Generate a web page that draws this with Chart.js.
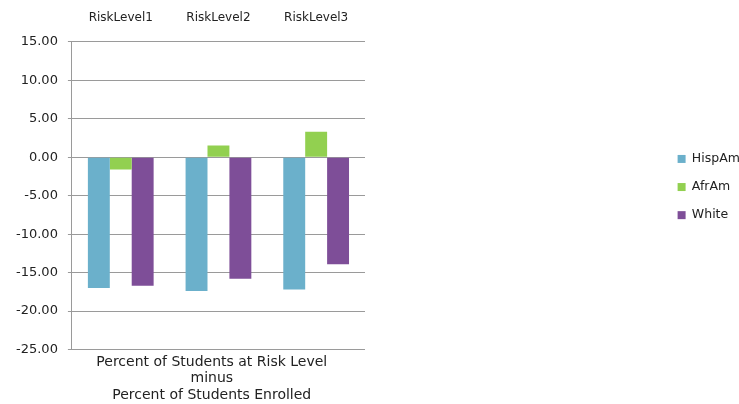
<!DOCTYPE html>
<html>
<head>
<meta charset="utf-8">
<script src="https://cdn.jsdelivr.net/npm/chart.js@4"></script>
<style>
  html, body { margin: 0; padding: 0; background: #fff; }
  #wrap { width: 739px; height: 404px; }
</style>
</head>
<body>
<div id="wrap"><canvas id="grafico"></canvas></div>
<script>
const categorias = ['RiskLevel1', 'RiskLevel2', 'RiskLevel3'];
const hispAm = [-17.0, -17.4, -17.2];
const afrAm = [-1.6, 1.5, 3.3];
const white = [-16.7, -15.8, -13.9];
const tituloEje = ['Percent of Students at Risk Level', 'minus', 'Percent of Students Enrolled'];

const fuente = 'DejaVu Sans';
const gris = '#9a9a9a';

new Chart(document.getElementById('grafico').getContext('2d'), {
    type: 'bar',
    data: {
        labels: categorias,
        datasets: [
            { label: 'HispAm', data: hispAm, backgroundColor: 'rgb(107, 176, 203)' },
            { label: 'AfrAm', data: afrAm, backgroundColor: 'rgb(146, 208, 80)' },
            { label: 'White', data: white, backgroundColor: 'rgb(126, 78, 152)' }
        ]
    },
    options: {
        responsive: true,
        maintainAspectRatio: false,
        animation: false,
        datasets: {
            bar: { barPercentage: 1, categoryPercentage: 0.673 }
        },
        layout: { padding: { top: 0, left: 6, right: 0, bottom: 0 } },
        plugins: {
            tooltip: { enabled: false },
            legend: {
                position: 'right',
                align: 'start',
                maxWidth: 77,
                // titulo vacio solo para bajar las entradas
                title: { display: true, text: ' ', font: { family: fuente, size: 13 }, padding: { top: 121.5, bottom: 0 } },
                labels: {
                    boxWidth: 8,
                    boxHeight: 8,
                    padding: 15.6,
                    color: '#222',
                    font: { family: fuente, size: 12.5 }
                }
            }
        },
        scales: {
            x: {
                position: 'top',
                grid: { drawOnChartArea: false, drawTicks: true, tickLength: 5.7, color: 'rgba(0,0,0,0)' },
                border: { display: false },
                ticks: { padding: 10.8, color: '#222', font: { family: fuente, size: 12 } }
            },
            x2: {
                type: 'category',
                position: 'bottom',
                grid: { display: false, drawTicks: false },
                border: { display: false },
                ticks: { display: false },
                title: {
                    display: true,
                    text: tituloEje.map(s => s + '   '),
                    color: '#222',
                    font: { family: fuente, size: 14, lineHeight: 1.2 },
                    padding: { top: 4, bottom: 0 }
                }
            },
            y: {
                min: -25,
                max: 15,
                grid: { color: gris, tickLength: 4 },
                border: { color: gris },
                ticks: {
                    stepSize: 5,
                    padding: 10,
                    color: '#222',
                    font: { family: fuente, size: 13 },
                    callback: v => v.toFixed(2)
                }
            },
            hueco: {
                type: 'linear',
                position: 'right',
                grid: { display: false, drawTicks: false },
                border: { display: false },
                ticks: { display: false },
                afterFit: s => { s.width = 297; }
            }
        }
    }
});
</script>
</body>
</html>
